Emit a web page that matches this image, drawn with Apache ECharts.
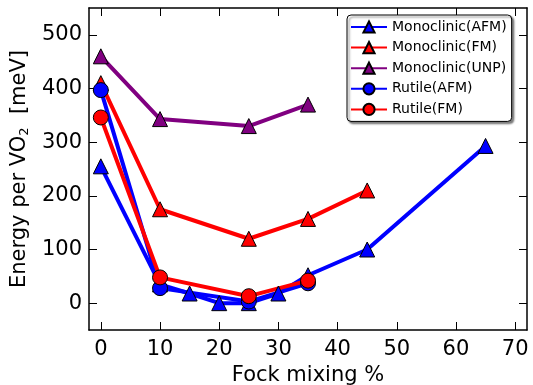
<!DOCTYPE html>
<html><head><meta charset="utf-8">
<script src="https://cdn.jsdelivr.net/npm/echarts@6/dist/echarts.min.js"></script>
<style>html,body{margin:0;padding:0;background:#fff}#c{width:533px;height:385px}</style>
</head><body><div id="c"></div>
<script>
const monoAFM_x = [0, 10, 15, 20, 25, 30, 35, 45, 65];
const monoAFM_y = [255, 35, 18, 0, 0, 18, 52, 100, 293];
const monoFM_x = [0, 10, 25, 35, 45];
const monoFM_y = [410, 175, 120, 157, 210];
const monoUNP_x = [0, 10, 25, 35];
const monoUNP_y = [460, 343, 330, 370];
const rutAFM_x = [0, 10, 25, 35];
const rutAFM_y = [397, 28, 3, 37];
const rutFM_x = [0, 10, 25, 35];
const rutFM_y = [346, 48, 13, 42];
const xTicks = [0, 10, 20, 30, 40, 50, 60, 70];
const yTicks = [0, 100, 200, 300, 400, 500];

const FONT = 'DejaVu Sans';
const FS = 21;
const pair = (xs, ys) => xs.map((x, i) => [x, ys[i]]);
function mk(name, xs, ys, color, sym, size) {
  return {
    name, type: 'line', data: pair(xs, ys), symbol: sym, symbolSize: size,
    lineStyle: {color, width: 4}, itemStyle: {color, borderColor: '#000', borderWidth: 1},
    showAllSymbol: true, animation: false, z: 2
  };
}
const chart = echarts.init(document.getElementById('c'));
function axisCommon(ticks) {
  return {
    axisLine: {onZero: false, lineStyle: {color: '#000', width: 1.5}},
    axisTick: {inside: true, length: 8, customValues: ticks, lineStyle: {color: '#000', width: 1}},
    splitLine: {show: false}
  };
}
chart.setOption({
  animation: false,
  grid: {left: 89, right: 6, top: 8, bottom: 55, containLabel: false, outerBoundsMode: 'none'},
  legend: {
    left: 347, top: 15, orient: 'vertical', itemWidth: 36, itemHeight: 14, itemGap: 6.6,
    backgroundColor: '#fff', borderColor: '#000', borderWidth: 1, borderRadius: 4,
    padding: [5, 5, 5, 3],
    shadowColor: 'rgba(0,0,0,0.5)', shadowBlur: 2, shadowOffsetX: 2, shadowOffsetY: 2,
    textStyle: {fontFamily: FONT, fontSize: 14, color: '#000'}
  },
  xAxis: [
    Object.assign({type: 'value', min: -2, max: 72,
      axisLabel: {fontFamily: FONT, fontSize: FS, color: '#000', margin: 9, customValues: xTicks},
      name: 'Fock mixing %', nameLocation: 'middle', nameGap: 32,
      nameTextStyle: {fontFamily: FONT, fontSize: FS, color: '#000'}}, axisCommon(xTicks)),
    Object.assign({type: 'value', position: 'top', min: -2, max: 72,
      axisLabel: {show: false}}, axisCommon(xTicks))
  ],
  yAxis: [
    Object.assign({type: 'value', min: -50, max: 550,
      axisLabel: {fontFamily: FONT, fontSize: FS, color: '#000', margin: 7, customValues: yTicks},
      name: '{a|Energy per VO}{s|2}{a|  [meV]}', nameLocation: 'middle', nameGap: 45,
      nameTextStyle: {fontFamily: FONT, fontSize: FS, color: '#000',
        rich: {a: {fontFamily: FONT, fontSize: FS, color: '#000'},
               s: {fontFamily: FONT, fontSize: 13, color: '#000', padding: [10, 0, 0, 0]}}}}, axisCommon(yTicks)),
    Object.assign({type: 'value', position: 'right', min: -50, max: 550,
      axisLabel: {show: false}}, axisCommon(yTicks))
  ],
  series: [
    mk('Monoclinic(AFM)', monoAFM_x, monoAFM_y, '#0000ff', 'triangle', 15),
    mk('Monoclinic(FM)', monoFM_x, monoFM_y, '#ff0000', 'triangle', 15),
    mk('Monoclinic(UNP)', monoUNP_x, monoUNP_y, '#800080', 'triangle', 15),
    mk('Rutile(AFM)', rutAFM_x, rutAFM_y, '#0000ff', 'circle', 15),
    mk('Rutile(FM)', rutFM_x, rutFM_y, '#ff0000', 'circle', 15)
  ]
});
</script></body></html>
